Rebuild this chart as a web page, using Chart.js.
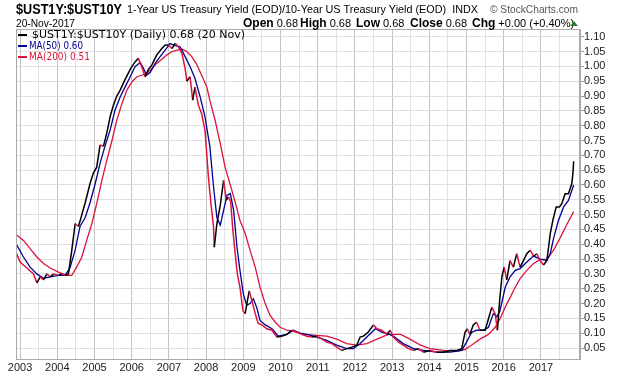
<!DOCTYPE html>
<html>
<head>
<meta charset="utf-8">
<script src="https://cdn.jsdelivr.net/npm/chart.js@4.4.1/dist/chart.umd.min.js"></script>
<style>
  html, body { margin: 0; padding: 0; background: #fff; }
  canvas { display: block; }
</style>
</head>
<body>
<canvas id="chart" width="620" height="376"></canvas>
<script>
// ratio $UST1Y:$UST10Y (decimal years)
const priceDates = [
  2002.9, 2003.0, 2003.09, 2003.18, 2003.27, 2003.36, 2003.45, 2003.54, 2003.63, 2003.72,
  2003.81, 2003.9, 2004.03, 2004.12, 2004.21, 2004.3, 2004.39, 2004.48, 2004.57, 2004.66,
  2004.75, 2004.88, 2004.97, 2005.06, 2005.15, 2005.24, 2005.33, 2005.42, 2005.51, 2005.6,
  2005.69, 2005.82, 2005.96, 2006.09, 2006.18, 2006.27, 2006.36, 2006.45, 2006.54, 2006.67,
  2006.81, 2006.9, 2006.99, 2007.08, 2007.17, 2007.26, 2007.35, 2007.44, 2007.48, 2007.57,
  2007.64, 2007.7, 2007.79, 2007.88, 2007.97, 2008.06, 2008.13, 2008.2, 2008.22, 2008.29,
  2008.38, 2008.47, 2008.54, 2008.6, 2008.66, 2008.72, 2008.78, 2008.84, 2008.91, 2008.99,
  2009.05, 2009.11, 2009.16, 2009.23, 2009.32, 2009.4, 2009.5, 2009.63, 2009.77, 2009.9,
  2010.03, 2010.17, 2010.3, 2010.44, 2010.57, 2010.71, 2010.84, 2010.97, 2011.1, 2011.24,
  2011.38, 2011.51, 2011.65, 2011.78, 2011.92, 2012.05, 2012.14, 2012.23, 2012.36, 2012.5,
  2012.59, 2012.72, 2012.86, 2012.95, 2013.03, 2013.17, 2013.3, 2013.44, 2013.57, 2013.71,
  2013.84, 2014.02, 2014.2, 2014.38, 2014.56, 2014.74, 2014.87, 2014.96, 2015.02, 2015.09,
  2015.18, 2015.27, 2015.36, 2015.5, 2015.59, 2015.68, 2015.77, 2015.83, 2015.89, 2015.95,
  2016.01, 2016.08, 2016.17, 2016.26, 2016.35, 2016.44, 2016.53, 2016.62, 2016.71, 2016.8,
  2016.89, 2016.98, 2017.07, 2017.16, 2017.25, 2017.32, 2017.41, 2017.5, 2017.56, 2017.65,
  2017.74, 2017.83, 2017.86, 2017.88
];
const priceVals = [
  0.37, 0.34, 0.33, 0.32, 0.31, 0.30, 0.27, 0.29, 0.28, 0.30,
  0.29, 0.30, 0.295, 0.30, 0.295, 0.30, 0.38, 0.47, 0.46, 0.50,
  0.54, 0.605, 0.64, 0.66, 0.735, 0.73, 0.775, 0.83, 0.87, 0.90,
  0.92, 0.955, 0.99, 1.015, 1.027, 0.999, 0.965, 0.99, 1.004, 1.038,
  1.06, 1.072, 1.072, 1.06, 1.078, 1.065, 1.044, 0.99, 0.95, 0.965,
  0.886, 0.93, 0.87, 0.84, 0.785, 0.63, 0.537, 0.458, 0.39, 0.47,
  0.531, 0.616, 0.548, 0.56, 0.543, 0.447, 0.37, 0.30, 0.255, 0.176,
  0.166, 0.21, 0.243, 0.21, 0.166, 0.133, 0.128, 0.115, 0.11, 0.087,
  0.09, 0.096, 0.11, 0.104, 0.096, 0.09, 0.087, 0.09, 0.082, 0.07,
  0.065, 0.053, 0.042, 0.048, 0.053, 0.06, 0.087, 0.09, 0.104, 0.128,
  0.115, 0.11, 0.096, 0.11, 0.087, 0.07, 0.06, 0.048, 0.042, 0.048,
  0.036, 0.042, 0.036, 0.036, 0.042, 0.042, 0.048, 0.103, 0.115, 0.096,
  0.128, 0.137, 0.11, 0.11, 0.149, 0.188, 0.166, 0.11, 0.21, 0.29,
  0.323, 0.28, 0.345, 0.323, 0.368, 0.323, 0.345, 0.368, 0.38, 0.36,
  0.368, 0.345, 0.33, 0.345, 0.436, 0.48, 0.526, 0.526, 0.537, 0.57,
  0.57, 0.605, 0.64, 0.68
];

// MA(50)
const ma50Dates = [
  2002.9, 2003.09, 2003.27, 2003.45, 2003.63, 2003.81, 2004.03, 2004.21, 2004.34, 2004.48,
  2004.61, 2004.75, 2004.88, 2005.02, 2005.15, 2005.28, 2005.42, 2005.55, 2005.69, 2005.82,
  2005.96, 2006.09, 2006.23, 2006.31, 2006.4, 2006.5, 2006.63, 2006.76, 2006.9, 2007.03,
  2007.17, 2007.3, 2007.44, 2007.57, 2007.7, 2007.84, 2007.97, 2008.1, 2008.2, 2008.29,
  2008.38, 2008.47, 2008.56, 2008.65, 2008.74, 2008.83, 2008.91, 2009.0, 2009.09, 2009.18,
  2009.27, 2009.36, 2009.45, 2009.59, 2009.77, 2009.94, 2010.17, 2010.35, 2010.53, 2010.75,
  2010.97, 2011.24, 2011.51, 2011.78, 2011.96, 2012.14, 2012.32, 2012.55, 2012.72, 2012.9,
  2013.03, 2013.3, 2013.57, 2013.84, 2014.2, 2014.56, 2014.87, 2015.0, 2015.14, 2015.27,
  2015.45, 2015.59, 2015.72, 2015.81, 2015.9, 2016.04, 2016.17, 2016.31, 2016.44, 2016.62,
  2016.8, 2016.98, 2017.16, 2017.25, 2017.34, 2017.47, 2017.61, 2017.74, 2017.88
];
const ma50Vals = [
  0.40, 0.357, 0.323, 0.30, 0.285, 0.29, 0.295, 0.295, 0.32, 0.38,
  0.46, 0.49, 0.54, 0.605, 0.673, 0.73, 0.785, 0.852, 0.897, 0.93,
  0.965, 0.999, 1.013, 0.995, 0.97, 0.98, 1.01, 1.032, 1.055, 1.077,
  1.07, 1.066, 1.032, 0.999, 0.96, 0.897, 0.83, 0.73, 0.593, 0.49,
  0.464, 0.514, 0.565, 0.571, 0.514, 0.39, 0.312, 0.233, 0.194, 0.20,
  0.216, 0.187, 0.143, 0.128, 0.115, 0.09, 0.096, 0.11, 0.10, 0.095,
  0.087, 0.076, 0.06, 0.048, 0.048, 0.065, 0.087, 0.115, 0.104, 0.098,
  0.09, 0.065, 0.048, 0.042, 0.036, 0.036, 0.042, 0.07, 0.103, 0.11,
  0.11, 0.12, 0.166, 0.155, 0.176, 0.255, 0.29, 0.312, 0.318, 0.34,
  0.36, 0.35, 0.345, 0.368, 0.42, 0.48, 0.526, 0.548, 0.60
];

// MA(200)
const ma200Dates = [
  2002.9, 2003.09, 2003.27, 2003.45, 2003.63, 2003.81, 2004.03, 2004.25, 2004.39, 2004.52,
  2004.66, 2004.79, 2004.93, 2005.06, 2005.2, 2005.33, 2005.47, 2005.6, 2005.74, 2005.87,
  2006.01, 2006.14, 2006.27, 2006.4, 2006.54, 2006.67, 2006.81, 2006.94, 2007.08, 2007.22,
  2007.35, 2007.48, 2007.62, 2007.75, 2007.88, 2008.02, 2008.1, 2008.24, 2008.38, 2008.51,
  2008.65, 2008.78, 2008.91, 2009.05, 2009.18, 2009.32, 2009.45, 2009.59, 2009.72, 2009.86,
  2009.99, 2010.17, 2010.35, 2010.62, 2010.97, 2011.24, 2011.51, 2011.78, 2012.05, 2012.32,
  2012.59, 2012.9, 2013.23, 2013.48, 2013.76, 2014.02, 2014.38, 2014.74, 2014.96, 2015.14,
  2015.36, 2015.59, 2015.77, 2015.9, 2016.04, 2016.17, 2016.31, 2016.44, 2016.62, 2016.8,
  2016.98, 2017.16, 2017.34, 2017.53, 2017.71, 2017.88
];
const ma200Vals = [
  0.432, 0.413, 0.385, 0.357, 0.335, 0.32, 0.306, 0.295, 0.295, 0.323,
  0.357, 0.413, 0.47, 0.537, 0.616, 0.683, 0.75, 0.819, 0.875, 0.92,
  0.948, 0.965, 0.97, 0.976, 0.993, 1.01, 1.024, 1.038, 1.05, 1.055,
  1.058, 1.05, 1.032, 1.006, 0.97, 0.93, 0.886, 0.819, 0.74, 0.66,
  0.60, 0.543, 0.48, 0.436, 0.38, 0.323, 0.255, 0.199, 0.16, 0.137,
  0.12, 0.11, 0.106, 0.096, 0.093, 0.09, 0.08, 0.065, 0.06, 0.065,
  0.08, 0.096, 0.096, 0.08, 0.06, 0.048, 0.042, 0.04, 0.045, 0.06,
  0.08, 0.096, 0.12, 0.149, 0.188, 0.22, 0.255, 0.284, 0.312, 0.335,
  0.348, 0.35, 0.38, 0.425, 0.47, 0.51
];

const BLACK = '#000000';
const RED = '#dc143c';
const BLUE = '#000096';
const FONT = "'Liberation Sans', Arial, sans-serif";

const toPoints = (xs, ys) => xs.map((x, i) => ({ x: x, y: ys[i] }));

// header text + legend + frame, drawn straight onto the canvas
const decorations = {
  id: 'decorations',
  afterDraw(chart) {
    const ctx = chart.ctx;
    const a = chart.chartArea;
    ctx.save();

    // frame
    ctx.strokeStyle = '#aaaaaa';
    ctx.lineWidth = 1;
    ctx.strokeRect(a.left + 0.5, a.top + 0.5, a.right - a.left - 1, a.bottom - a.top);

    // title row
    ctx.textBaseline = 'alphabetic';
    ctx.fillStyle = '#000';
    ctx.font = 'bold 14px ' + FONT;
    ctx.fillText('$UST1Y:$UST10Y', 16, 14, 106);
    ctx.font = '11px ' + FONT;
    ctx.fillText('1-Year US Treasury Yield (EOD)/10-Year US Treasury Yield (EOD)  INDX', 127, 13, 351);
    ctx.fillStyle = '#555';
    ctx.fillText('\u00A9 StockCharts.com', 490, 13, 88);

    // second row
    ctx.fillStyle = '#000';
    ctx.fillText('20-Nov-2017', 16, 27, 59);
    const quote = [['Open', '0.68', 243], ['High', '0.68', 300], ['Low', '0.68', 356],
                   ['Close', '0.68', 410], ['Chg', '+0.00 (+0.40%)', 472]];
    quote.forEach(q => {
      ctx.font = 'bold 12px ' + FONT;
      ctx.fillText(q[0], q[2], 27);
      const w = ctx.measureText(q[0]).width;
      ctx.font = '11px ' + FONT;
      ctx.fillText(q[1], q[2] + w + 3, 27);
    });
    // up triangle
    ctx.fillStyle = '#2e7d32';
    ctx.beginPath();
    ctx.moveTo(570, 26);
    ctx.lineTo(578, 26);
    ctx.lineTo(574, 21);
    ctx.closePath();
    ctx.fill();

    // legend inside the plot
    const legend = [
      [BLACK, '$UST1Y:$UST10Y (Daily) 0.68 (20 Nov)', 35, 32, 218],
      [BLUE, 'MA(50) 0.60', 46, 29, 54],
      [RED, 'MA(200) 0.51', 57, 29, 61]
    ];
    ctx.font = "11px 'DejaVu Sans', Verdana, sans-serif";
    ctx.textBaseline = 'middle';
    legend.forEach(l => {
      ctx.strokeStyle = l[0];
      ctx.lineWidth = 2;
      ctx.beginPath();
      ctx.moveTo(18, l[2]);
      ctx.lineTo(27, l[2]);
      ctx.stroke();
      ctx.fillStyle = l[0];
      ctx.fillText(l[1], l[3], l[2], l[4]);
    });
    ctx.restore();
  }
};

new Chart(document.getElementById('chart'), {
  type: 'line',
  data: {
    datasets: [
      {
        label: 'MA(200)',
        data: toPoints(ma200Dates, ma200Vals),
        borderColor: RED,
        borderWidth: 1.3,
        pointRadius: 0,
        order: 3
      },
      {
        label: 'MA(50)',
        data: toPoints(ma50Dates, ma50Vals),
        borderColor: BLUE,
        borderWidth: 1.3,
        pointRadius: 0,
        order: 2
      },
      {
        label: '$UST1Y:$UST10Y',
        data: toPoints(priceDates, priceVals),
        borderColor: BLACK,
        borderWidth: 1.5,
        pointRadius: 0,
        order: 1,
        segment: {
          borderColor: c => c.p1.parsed.y < c.p0.parsed.y ? RED : BLACK
        }
      }
    ]
  },
  options: {
    responsive: false,
    animation: false,
    devicePixelRatio: 1,
    layout: { padding: { left: 16, top: 29, right: 0, bottom: 0 } },
    plugins: {
      legend: { display: false },
      title: { display: false },
      tooltip: { enabled: false }
    },
    scales: {
      x: {
        type: 'linear',
        min: 2002.89,
        max: 2018.05,
        afterFit: s => { s.height = 17; },
        border: { display: true, color: '#aaaaaa' },
        grid: {
          drawTicks: false,
          color: c => {
            const v = c.tick ? c.tick.value : 0;
            if (v > 2017.9) return 'rgba(0,0,0,0)';
            return Number.isInteger(v) ? '#c4c4c4' : '#e2e2e2';
          }
        },
        ticks: {
          stepSize: 0.5,
          includeBounds: false,
          autoSkip: false,
          maxRotation: 0,
          padding: 2,
          color: '#222',
          font: { family: FONT, size: 11 },
          callback: v => (Number.isInteger(v) && v <= 2017) ? String(v) : ''
        }
      },
      y: {
        position: 'right',
        min: 0.013,
        max: 1.126,
        afterFit: s => { s.width = 40; },
        border: { display: true, color: '#aaaaaa' },
        grid: {
          color: '#dedede',
          tickLength: 4,
          tickColor: '#999'
        },
        ticks: {
          stepSize: 0.05,
          includeBounds: false,
          autoSkip: false,
          maxTicksLimit: 40,
          padding: 0,
          color: '#222',
          font: { family: FONT, size: 11 },
          callback: v => v.toFixed(2)
        }
      }
    }
  },
  plugins: [decorations]
});
</script>
</body>
</html>
